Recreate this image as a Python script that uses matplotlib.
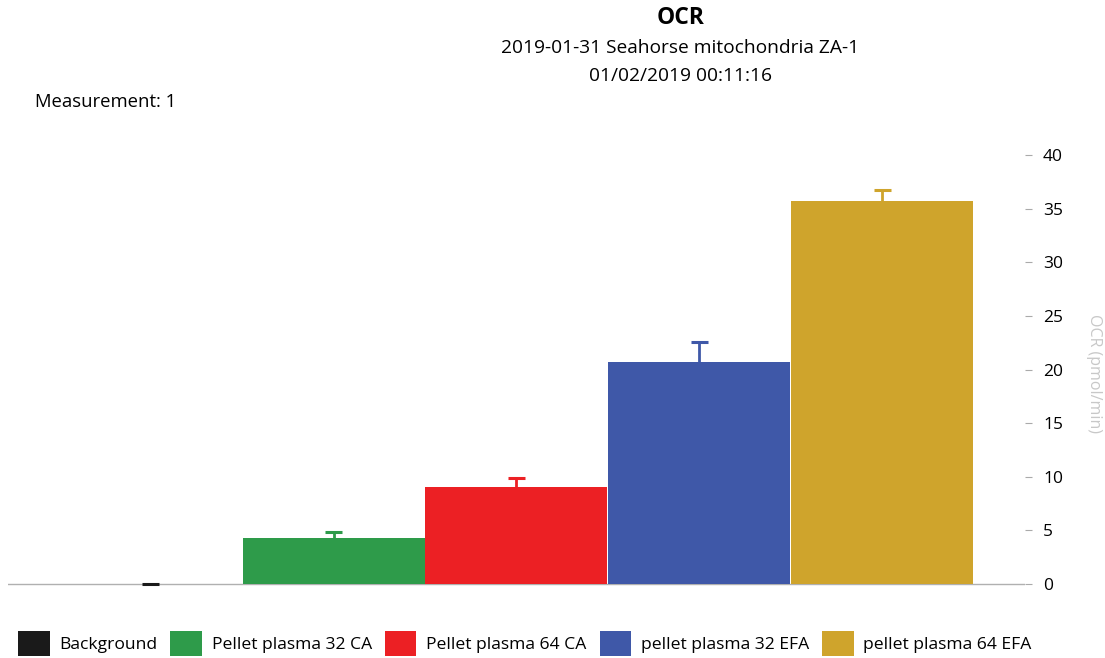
import matplotlib.pyplot as plt
from matplotlib.patches import Patch

plt.rcParams['font.family'] = ['Open Sans', 'DejaVu Sans']

# groups, mean OCR and error (pmol/min)
groups = ['Background', 'Pellet plasma 32 CA', 'Pellet plasma 64 CA',
          'pellet plasma 32 EFA', 'pellet plasma 64 EFA']
ocr = [0.0, 4.3, 9.0, 20.7, 35.7]
ocr_err = [0.0, 0.55, 0.9, 1.9, 1.0]
colors = ['#1a1a1a', '#2e9b4a', '#ec2024', '#3f58a8', '#cfa42c']
yticks = [0, 5, 10, 15, 20, 25, 30, 35, 40]

fig = plt.figure(figsize=(11.05, 6.58), dpi=100)
ax = fig.add_axes([0.0072, 0.0962, 0.9204, 0.6714])

x = list(range(len(groups)))
ax.axhline(0, color='#b0b0b0', linewidth=1, zorder=0)
ax.bar(x, ocr, width=0.995, color=colors, edgecolor='none', zorder=2)
# upper error whiskers with a cap
tops = [v + e for v, e in zip(ocr, ocr_err)]
ax.vlines(x, ocr, tops, colors=colors, linewidth=2, zorder=3)
for i in x:
    ax.hlines(tops[i], i - 0.045, i + 0.045, colors=colors[i], linewidth=2.2, zorder=3)

ax.set_xlim(-0.78, 4.78)
ax.set_ylim(-1, 40.2)

ax.yaxis.tick_right()
ax.yaxis.set_label_position('right')
ax.set_yticks(yticks)
ax.tick_params(axis='y', length=5, color='#aaaaaa', labelsize=12.5, pad=8)
ax.set_xticks([])
for s in ax.spines.values():
    s.set_visible(False)
ax.set_ylabel('OCR (pmol/min)', color='#c8c8c8', fontsize=11.5, rotation=270, labelpad=28)

fig.text(0.616, 0.972, 'OCR', ha='center', va='center', fontsize=16.5, fontweight='bold')
fig.text(0.615, 0.927, '2019-01-31 Seahorse mitochondria ZA-1', ha='center', va='center', fontsize=13.8)
fig.text(0.616, 0.885, '01/02/2019 00:11:16', ha='center', va='center', fontsize=13.8)
fig.text(0.032, 0.845, 'Measurement: 1', ha='left', va='center', fontsize=13.3)

handles = [Patch(facecolor=c, edgecolor='none') for c in colors]
fig.legend(handles, groups, loc='center left', bbox_to_anchor=(0.01, 0.022), ncol=5,
           frameon=False, fontsize=12.6, handlelength=1.8, handleheight=1.8,
           handletextpad=0.55, columnspacing=0.75, borderaxespad=0)

fig.savefig('out.png', dpi=100)
